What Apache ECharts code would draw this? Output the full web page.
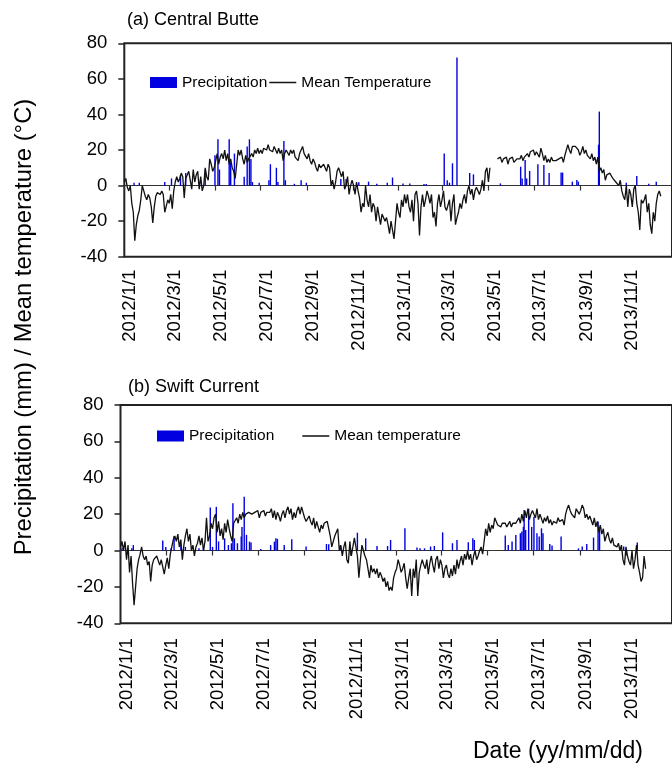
<!DOCTYPE html>
<html>
<head>
<meta charset="utf-8">
<script src="https://cdn.jsdelivr.net/npm/echarts@6/dist/echarts.min.js"></script>
<style>html,body{margin:0;padding:0;background:#fff}#c{width:672px;height:765px}</style>
</head>
<body>
<div id="c"></div>
<script>
// ---- data ----
const START = '2012/1/1';      // first day of both series
const STEP_DAYS = 2;           // temperature sampled every 2 days
const xTickLabels = ['2012/1/1','2012/3/1','2012/5/1','2012/7/1','2012/9/1','2012/11/1',
  '2013/1/1','2013/3/1','2013/5/1','2013/7/1','2013/9/1','2013/11/1'];
const yTicks = [-40, -20, 0, 20, 40, 60, 80];

// (a) Central Butte - mean temperature (°C)
const tempA = [
  2, 4, -1, -3, 0, -10, -15, -31, -22, -17,
  -14, -8, 0, -3, -6, -8, -5, -7, -12, -21,
  -12, -6, -4, -3, -5, -3, -5, -15, -16, -8,
  -10, -5, -13, -3, 2, 5, 2, 4, 7, 5,
  -7, 4, 5, 8, 3, -2, 9, 2, 6, 8,
  -2, 5, -3, 0, 10, 5, 3, 15, 12, 8,
  10, 14, 18, 12, 16, 18, 15, 20, 14, 18,
  12, 15, 10, 8, 4, 12, 20, 17, 20, 15,
  12, 17, 13, 15, 14, 18, 16, 20, 18, 21,
  18, 20, 18, 21, 22, 20, 23, 20, 21, 19,
  22, 20, 18, 21, 18, 20, 14, 18, 20, 19,
  17, 20, 18, 20, 16, 17, 14, 18, 20, 22,
  18, 17, 15, 18, 14, 12, 15, 13, 10, 8,
  12, 10, 11, 12, 13, 8, 12, 10, 0, 3,
  -2, 2, 8, 10, 10, 5, 8, -2, 0, 5,
  -5, 0, 3, 0, -5, 2, -3, -7, -15, -10,
  -12, 0, -8, -12, -5, -15, -10, -12, -20, -12,
  -17, -22, -16, -15, -20, -18, -22, -27, -20, -25,
  -30, -20, -10, -15, -18, -8, -12, -5, -10, -5,
  -12, -15, -8, -20, -5, -3, -10, -28, -12, -5,
  -12, -8, -3, -6, -10, -5, -18, -15, -23, -10,
  -5, -12, -8, -3, -12, -14, -15, -8, -20, -10,
  -5, -22, -18, -15, -10, -13, -8, -5, -10, -3,
  0, -5, -2, -8, -3, -1, 0, -5, -2, 3,
  -3, 8, 10, 2, 10, null, null, null, null, 15,
  14, 16, 13, 15, 15, 16, 12, 15, 14, 16,
  13, 12, 15, 14, 15, 17, 14, 16, 15, 18,
  16, 19, 18, 20, 17, 19, 18, 16, 21, 18,
  14, 17, 13, 15, 13, 16, 14, 15, 14, 13,
  15, 14, 16, 13, 17, 20, 23, 20, 18, 22,
  21, 22, 23, 20, 17, 19, 22, 18, 20, 17,
  16, 15, 18, 14, 16, 12, 16, 8, 10, 7,
  9, 3, 6, 5, 7, 8, 4, 5, 2, 3,
  0, 3, -3, -6, -8, 0, -12, -2, -5, -12,
  -2, 0, -10, -15, -25, -8, -10, -8, -5, -15,
  -10, -22, -27, -15, -20, -10, -5, -3, -6
];
// (a) precipitation: day offset from START and amount (mm)
const precipADay = [13, 20, 54, 63, 75, 82, 108, 121, 125, 127, 140, 142, 147, 160, 164, 167, 169, 171, 180,
  193, 195, 203, 205, 213, 215, 227, 236, 243, 289, 296, 313, 326, 337, 351, 358, 372, 381, 400, 403,
  427, 431, 434, 438, 444, 461, 466, 502, 529, 531, 535, 537, 541, 552, 560, 567, 583, 585, 598, 604,
  606, 633, 634, 670, 684, 700, 710];
const precipAVal = [1.6, 1.6, 2, 4, 6, 7, 9, 17, 26, 9, 26, 13, 18, 5, 22, 26, 15, 2, 1.6,
  3, 12, 10, 2, 25, 3, 1, 3, 1.6, 3.7, 3.7, 1.8, 2.2, 1, 1.6, 4.5, 1.2, 1.2, 0.9, 0.9,
  18, 3, 1.6, 12.5, 72, 7, 6.3, 1.2, 10.6, 4, 14.4, 4, 8.2, 12, 11.6, 7, 7.3, 7.3, 2.2, 3.1,
  2.2, 23, 41.6, 1.6, 5.4, 1, 2.2];

// (b) Swift Current - mean temperature (°C)
const tempB = [
  2, 5, 0, 5, -5, 3, -12, -3, -18, -30,
  -20, -10, -5, -2, 2, -3, -5, -3, -8, -6,
  -17, -8, -5, -4, -3, -2, -8, -5, -5, -13,
  -8, -4, -10, -2, 2, 6, 8, 5, 9, 2,
  6, -5, 3, 8, 12, 5, 9, 0, 3, -3,
  2, 4, 8, 3, 7, 0, 5, 18, 5, 8,
  15, 12, 18, 20, 10, 16, 8, 12, 6, 15,
  10, 17, 12, 8, 5, 15, 14, 18, 15, 20,
  17, 21, 18, 20, 19, 21, 22, 20, 19, 21,
  20, 22, 18, 21, 20, 22, 19, 21, 20, 21,
  23, 18, 22, 17, 21, 19, 16, 20, 22, 18,
  22, 24, 20, 23, 17, 21, 18, 22, 24, 20,
  24, 21, 18, 16, 15, 19, 16, 14, 18, 12,
  16, 13, 10, 14, 12, 15, 14, 16, 12, 8,
  2, 3, 8, 10, 12, 0, 3, -3, 2, 5,
  -5, -7, 5, -3, 2, 7, 8, -3, -15, -5,
  3, 0, -3, -5, -10, -15, -8, -12, -10, -13,
  -10, -15, -12, -14, -17, -15, -20, -17, -22, -20,
  -22, -15, -12, -10, -5, -8, -12, -10, -7, -15,
  -21, -15, -10, -25, -10, -15, -5, -25, -12, -8,
  -5, -8, -10, -5, -13, -7, -3, -8, -12, -5,
  -3, -10, -5, -8, -15, -10, -8, -13, -15, -10,
  -14, -8, -13, -5, -10, -6, -3, -8, -2, -5,
  0, -5, -2, -8, -3, 0, -5, -3, 0, 2,
  -2, 5, 12, 8, 15, 10, 14, 12, 18, 16,
  14, 15, 13, 15, 14, 15, 13, 14, 16, 13,
  15, 16, 15, 14, 18, 15, 20, 16, 22, 18,
  23, 17, 20, 22, 20, 18, 23, 17, 20, 21,
  15, 18, 16, 19, 15, 17, 14, 16, 17, 15,
  18, 16, 15, 17, 14, 20, 23, 25, 22, 20,
  21, 18, 23, 24, 20, 22, 25, 23, 18, 20,
  17, 19, 20, 14, 18, 13, 16, 10, 14, 9,
  12, 5, 8, 10, 6, 4, 7, 3, 4, 2,
  4, 0, 3, -5, -8, 2, -3, -6, -8, 0,
  -10, -5, 3, -8, -12, -17, -15, -3, -10
];
// (b) precipitation: day offset from START and amount (mm)
const precipBDay = [2, 15, 17, 56, 60, 67, 71, 80, 86, 104, 110, 119, 122, 127, 130, 138, 143, 147, 149, 151,
  155, 160, 161, 164, 167, 171, 173, 186, 199, 204, 206, 208, 217, 227, 246, 273, 276, 291, 314, 325,
  340, 354, 358, 377, 393, 397, 403, 411, 416, 427, 440, 446, 461, 467, 469, 510, 514, 519, 524, 530,
  532, 534, 535, 537, 541, 545, 548, 552, 555, 558, 560, 569, 572, 584, 607, 612, 618, 627, 633, 635,
  667, 685];
const precipBVal = [1.2, 1.2, 3, 5.5, 2, 1.2, 8, 3, 2, 1.2, 2, 23.7, 2, 24, 5, 6.7, 3, 4, 26, 6.7,
  4, 7.7, 13, 29.6, 8.6, 4.9, 4.4, 0.9, 3, 4.9, 6.7, 6.4, 3, 6.2, 2.2, 3.6, 3.4, 2.7, 9.8, 6.7,
  2.5, 2.5, 5.8, 12.2, 1.6, 1.2, 1.2, 2.2, 2.5, 10, 4, 5.8, 4.5, 6.7, 5.8, 8.2, 3, 4.9, 8.6, 9.5,
  10.4, 13, 22.3, 11.3, 22.9, 13, 18.6, 9.5, 7.7, 12.2, 9.5, 3.6, 2.7, 7.7, 1.2, 2.2, 3.6, 7.1, 16, 13,
  2.2, 4.4];

// ---- helpers ----
function dayOf(s) {
  const [y, m, d] = s.split('/').map(Number);
  const [y0, m0, d0] = START.split('/').map(Number);
  return Math.round((Date.UTC(y, m - 1, d) - Date.UTC(y0, m0 - 1, d0)) / 86400000);
}
const tickDays = xTickLabels.map(dayOf);
const X_MAX = dayOf('2014/1/1');
const FONT = 'Arial, "Liberation Sans", sans-serif';
const lineData = arr => arr.map((v, i) => [i * STEP_DAYS, v]);
const barData = (days, vals) => days.map((d, i) => [d, vals[i]]);
const LINE_ICON = 'path://M0,0H27V1.5H0Z';

function gridAxes(gi, labelMargin) {
  return [
    { // bottom axis: date labels
      type: 'value', gridIndex: gi, position: 'bottom', min: 0, max: X_MAX,
      axisLine: { show: false, onZero: false }, axisTick: { show: false }, splitLine: { show: false },
      axisLabel: {
        customValues: tickDays, rotate: 90, margin: labelMargin, color: '#000',
        fontFamily: FONT, fontSize: 18.5, verticalAlign: 'top', lineHeight: 12,
        formatter: v => xTickLabels[tickDays.indexOf(v)] || ''
      }
    },
    { // zero line with tick marks
      type: 'value', gridIndex: gi, position: 'top', min: 0, max: X_MAX,
      axisLine: { show: true, onZero: true, lineStyle: { color: '#333', width: 1 } },
      axisTick: { show: true, inside: true, length: 5, customValues: tickDays, lineStyle: { color: '#333', width: 1.2 } },
      axisLabel: { show: false }, splitLine: { show: false }
    }
  ];
}
function yAx(gi) {
  return {
    type: 'value', gridIndex: gi, min: -40, max: 80, interval: 20,
    axisLine: { show: false }, splitLine: { show: false },
    axisTick: { show: true, length: 6, lineStyle: { color: '#222', width: 1.5 } },
    axisLabel: { color: '#000', fontFamily: FONT, fontSize: 18.5, margin: 17 }
  };
}

const chart = echarts.init(document.getElementById('c'), null, { renderer: 'canvas' });
const BLUE = '#0000e0';
chart.setOption({
  animation: false,
  backgroundColor: '#fff',
  title: [
    { text: '(a) Central Butte', left: 127, top: 11, padding: 0,
      textStyle: { fontFamily: FONT, fontSize: 18, fontWeight: 'normal', color: '#000', lineHeight: 18 } },
    { text: '(b) Swift Current', left: 128, top: 378, padding: 0,
      textStyle: { fontFamily: FONT, fontSize: 18, fontWeight: 'normal', color: '#000', lineHeight: 18 } }
  ],
  legend: [
    { left: 150, top: 74.5, padding: 0, itemWidth: 27, itemHeight: 11, itemGap: 2,
      textStyle: { fontFamily: FONT, fontSize: 15.5, color: '#000', lineHeight: 16 },
      data: [{ name: 'Precipitation', icon: 'rect' }, { name: 'Mean Temperature', icon: LINE_ICON }],
      selectedMode: false },
    { left: 157, top: 428, padding: 0, itemWidth: 27, itemHeight: 11, itemGap: 28,
      textStyle: { fontFamily: FONT, fontSize: 15.5, color: '#000', lineHeight: 16 },
      data: [{ name: 'Precipitation', icon: 'rect' }, { name: 'Mean temperature', icon: LINE_ICON }],
      selectedMode: false }
  ],
  grid: [
    { left: 124.3, top: 43.3, width: 558.1, height: 213.4, show: true, borderColor: '#222', borderWidth: 2, backgroundColor: 'transparent' },
    { left: 120.5, top: 405, width: 560.7, height: 218.3, show: true, borderColor: '#222', borderWidth: 2, backgroundColor: 'transparent' }
  ],
  xAxis: [...gridAxes(0, 13), ...gridAxes(1, 15)],
  yAxis: [yAx(0), yAx(1)],
  graphic: [
    { type: 'text', x: 24, y: 327, rotation: Math.PI / 2,
      style: { text: 'Precipitation (mm) / Mean temperature (°C)', x: 0, y: 0, align: 'center', verticalAlign: 'middle',
        textAlign: 'center', textVerticalAlign: 'middle', fontFamily: FONT, fontSize: 23.8, fill: '#000' } },
    { type: 'text', x: 473, y: 752,
      style: { text: 'Date (yy/mm/dd)', x: 0, y: 0, align: 'left', verticalAlign: 'middle',
        textAlign: 'left', textVerticalAlign: 'middle', fontFamily: FONT, fontSize: 23, fill: '#000' } }
  ],
  series: [
    { name: 'Precipitation', type: 'bar', xAxisIndex: 0, yAxisIndex: 0, barWidth: 1.4, z: 2,
      itemStyle: { color: BLUE }, data: barData(precipADay, precipAVal) },
    { name: 'Mean Temperature', type: 'line', xAxisIndex: 0, yAxisIndex: 0, z: 3, symbol: 'none',
      lineStyle: { color: '#111', width: 1.3 }, itemStyle: { color: '#111' }, data: lineData(tempA) },
    { name: 'Precipitation', type: 'bar', xAxisIndex: 2, yAxisIndex: 1, barWidth: 1.4, z: 2,
      itemStyle: { color: BLUE }, data: barData(precipBDay, precipBVal) },
    { name: 'Mean temperature', type: 'line', xAxisIndex: 2, yAxisIndex: 1, z: 3, symbol: 'none',
      lineStyle: { color: '#111', width: 1.3 }, itemStyle: { color: '#111' }, data: lineData(tempB) }
  ]
});
</script>
</body>
</html>
